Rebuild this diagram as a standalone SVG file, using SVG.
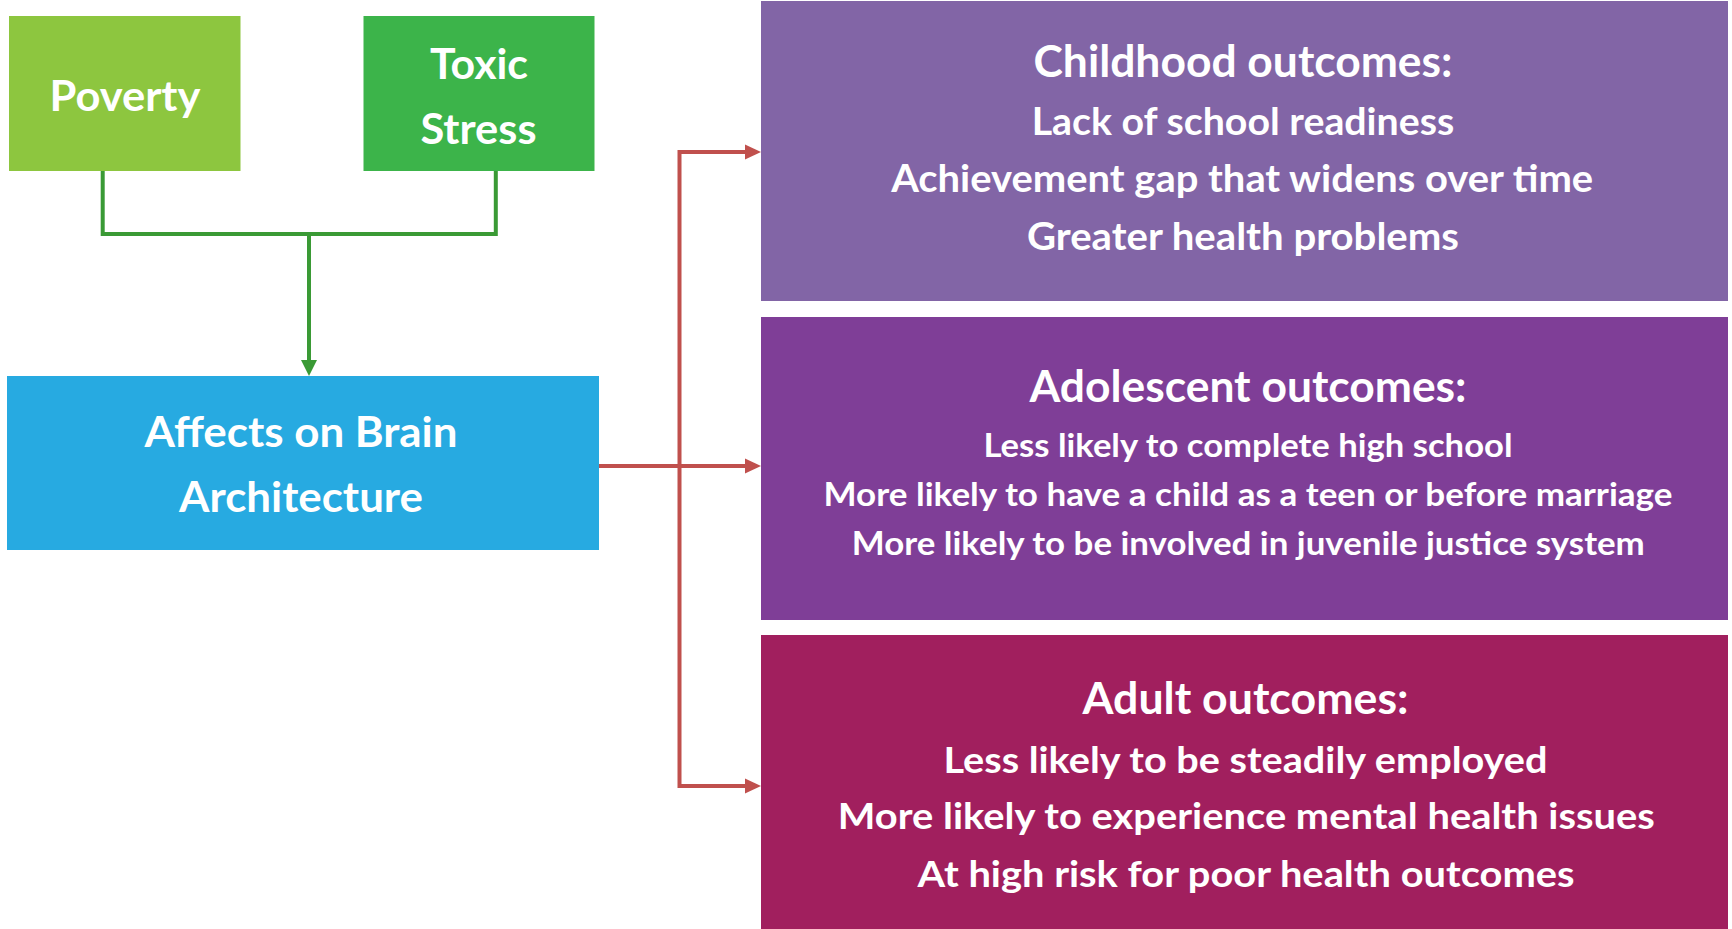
<svg xmlns="http://www.w3.org/2000/svg" width="1732" height="929" viewBox="0 0 1732 929">
  <style>
    text { font-family: Lato, "Open Sans", "Liberation Sans", sans-serif; font-weight: 700; fill: #ffffff; text-anchor: middle; }
    .h { font-size: 43px; }
    .big { font-size: 42px; }
    .i1 { font-size: 38.5px; }
    .i2 { font-size: 33px; }
    .i3 { font-size: 37px; }
    .green { fill: none; stroke: #3a9a35; stroke-width: 4; }
    .red { fill: none; stroke: #c0504d; stroke-width: 4; }
  </style>
  <defs>
    <marker id="ag" viewBox="0 0 16 16" refX="6" refY="8" markerWidth="16" markerHeight="16" markerUnits="userSpaceOnUse" orient="auto">
      <path d="M0,0 L16,8 L0,16 z" fill="#3a9a35"/>
    </marker>
    <marker id="ar" viewBox="0 0 16 16" refX="6" refY="8" markerWidth="16" markerHeight="16" markerUnits="userSpaceOnUse" orient="auto">
      <path d="M0,0.5 L16,8 L0,15.5 z" fill="#c0504d"/>
    </marker>
  </defs>
  <rect x="0" y="0" width="1732" height="929" fill="#ffffff"/>

  <g id="connectors">
    <path class="green" d="M102.7,170 V234 H495.8 V170"/>
    <path class="green" d="M309,234 V366" marker-end="url(#ag)"/>
    <path class="red" d="M599,466 H751" marker-end="url(#ar)"/>
    <path class="red" d="M679.5,466 V152 H751" marker-end="url(#ar)"/>
    <path class="red" d="M679.5,466 V786 H751" marker-end="url(#ar)"/>
  </g>

  <g id="poverty">
    <rect x="9" y="16" width="231.5" height="155" fill="#8dc63f"/>
    <text class="big" x="125" y="111" textLength="151" lengthAdjust="spacingAndGlyphs">Poverty</text>
  </g>

  <g id="toxic-stress">
    <rect x="363.5" y="16" width="231" height="155" fill="#3cb44a"/>
    <text class="big" x="479" y="79" textLength="98" lengthAdjust="spacingAndGlyphs">Toxic</text>
    <text class="big" x="478.5" y="144.3" textLength="116" lengthAdjust="spacingAndGlyphs">Stress</text>
  </g>

  <g id="brain">
    <rect x="7" y="376" width="592" height="174" fill="#27aae1"/>
    <text class="big" x="301" y="446.7" textLength="313" lengthAdjust="spacingAndGlyphs">Affects on Brain</text>
    <text class="big" x="301" y="511.7" textLength="244" lengthAdjust="spacingAndGlyphs">Architecture</text>
  </g>

  <g id="childhood">
    <rect x="761" y="1" width="967" height="300" fill="#8265a6"/>
    <text class="h" x="1243" y="77.3" textLength="419" lengthAdjust="spacingAndGlyphs">Childhood outcomes:</text>
    <text class="i1" x="1243" y="135" textLength="422.6" lengthAdjust="spacingAndGlyphs">Lack of school readiness</text>
    <text class="i1" x="1242.2" y="192.3" textLength="702" lengthAdjust="spacingAndGlyphs">Achievement gap that widens over time</text>
    <text class="i1" x="1243" y="250" textLength="432" lengthAdjust="spacingAndGlyphs">Greater health problems</text>
  </g>

  <g id="adolescent">
    <rect x="761" y="317" width="967" height="303" fill="#7f3e97"/>
    <text class="h" x="1248" y="402.3" textLength="437" lengthAdjust="spacingAndGlyphs">Adolescent outcomes:</text>
    <text class="i2" x="1248" y="456.7" textLength="529" lengthAdjust="spacingAndGlyphs">Less likely to complete high school</text>
    <text class="i2" x="1248" y="505.7" textLength="849" lengthAdjust="spacingAndGlyphs">More likely to have a child as a teen or before marriage</text>
    <text class="i2" x="1248.3" y="555" textLength="793" lengthAdjust="spacingAndGlyphs">More likely to be involved in juvenile justice system</text>
  </g>

  <g id="adult">
    <rect x="761" y="635" width="967" height="294" fill="#a11f5e"/>
    <text class="h" x="1245.5" y="714" textLength="326" lengthAdjust="spacingAndGlyphs">Adult outcomes:</text>
    <text class="i3" x="1245.5" y="772.7" textLength="604" lengthAdjust="spacingAndGlyphs">Less likely to be steadily employed</text>
    <text class="i3" x="1246.3" y="829.3" textLength="817" lengthAdjust="spacingAndGlyphs">More likely to experience mental health issues</text>
    <text class="i3" x="1246" y="887.3" textLength="657" lengthAdjust="spacingAndGlyphs">At high risk for poor health outcomes</text>
  </g>
</svg>
